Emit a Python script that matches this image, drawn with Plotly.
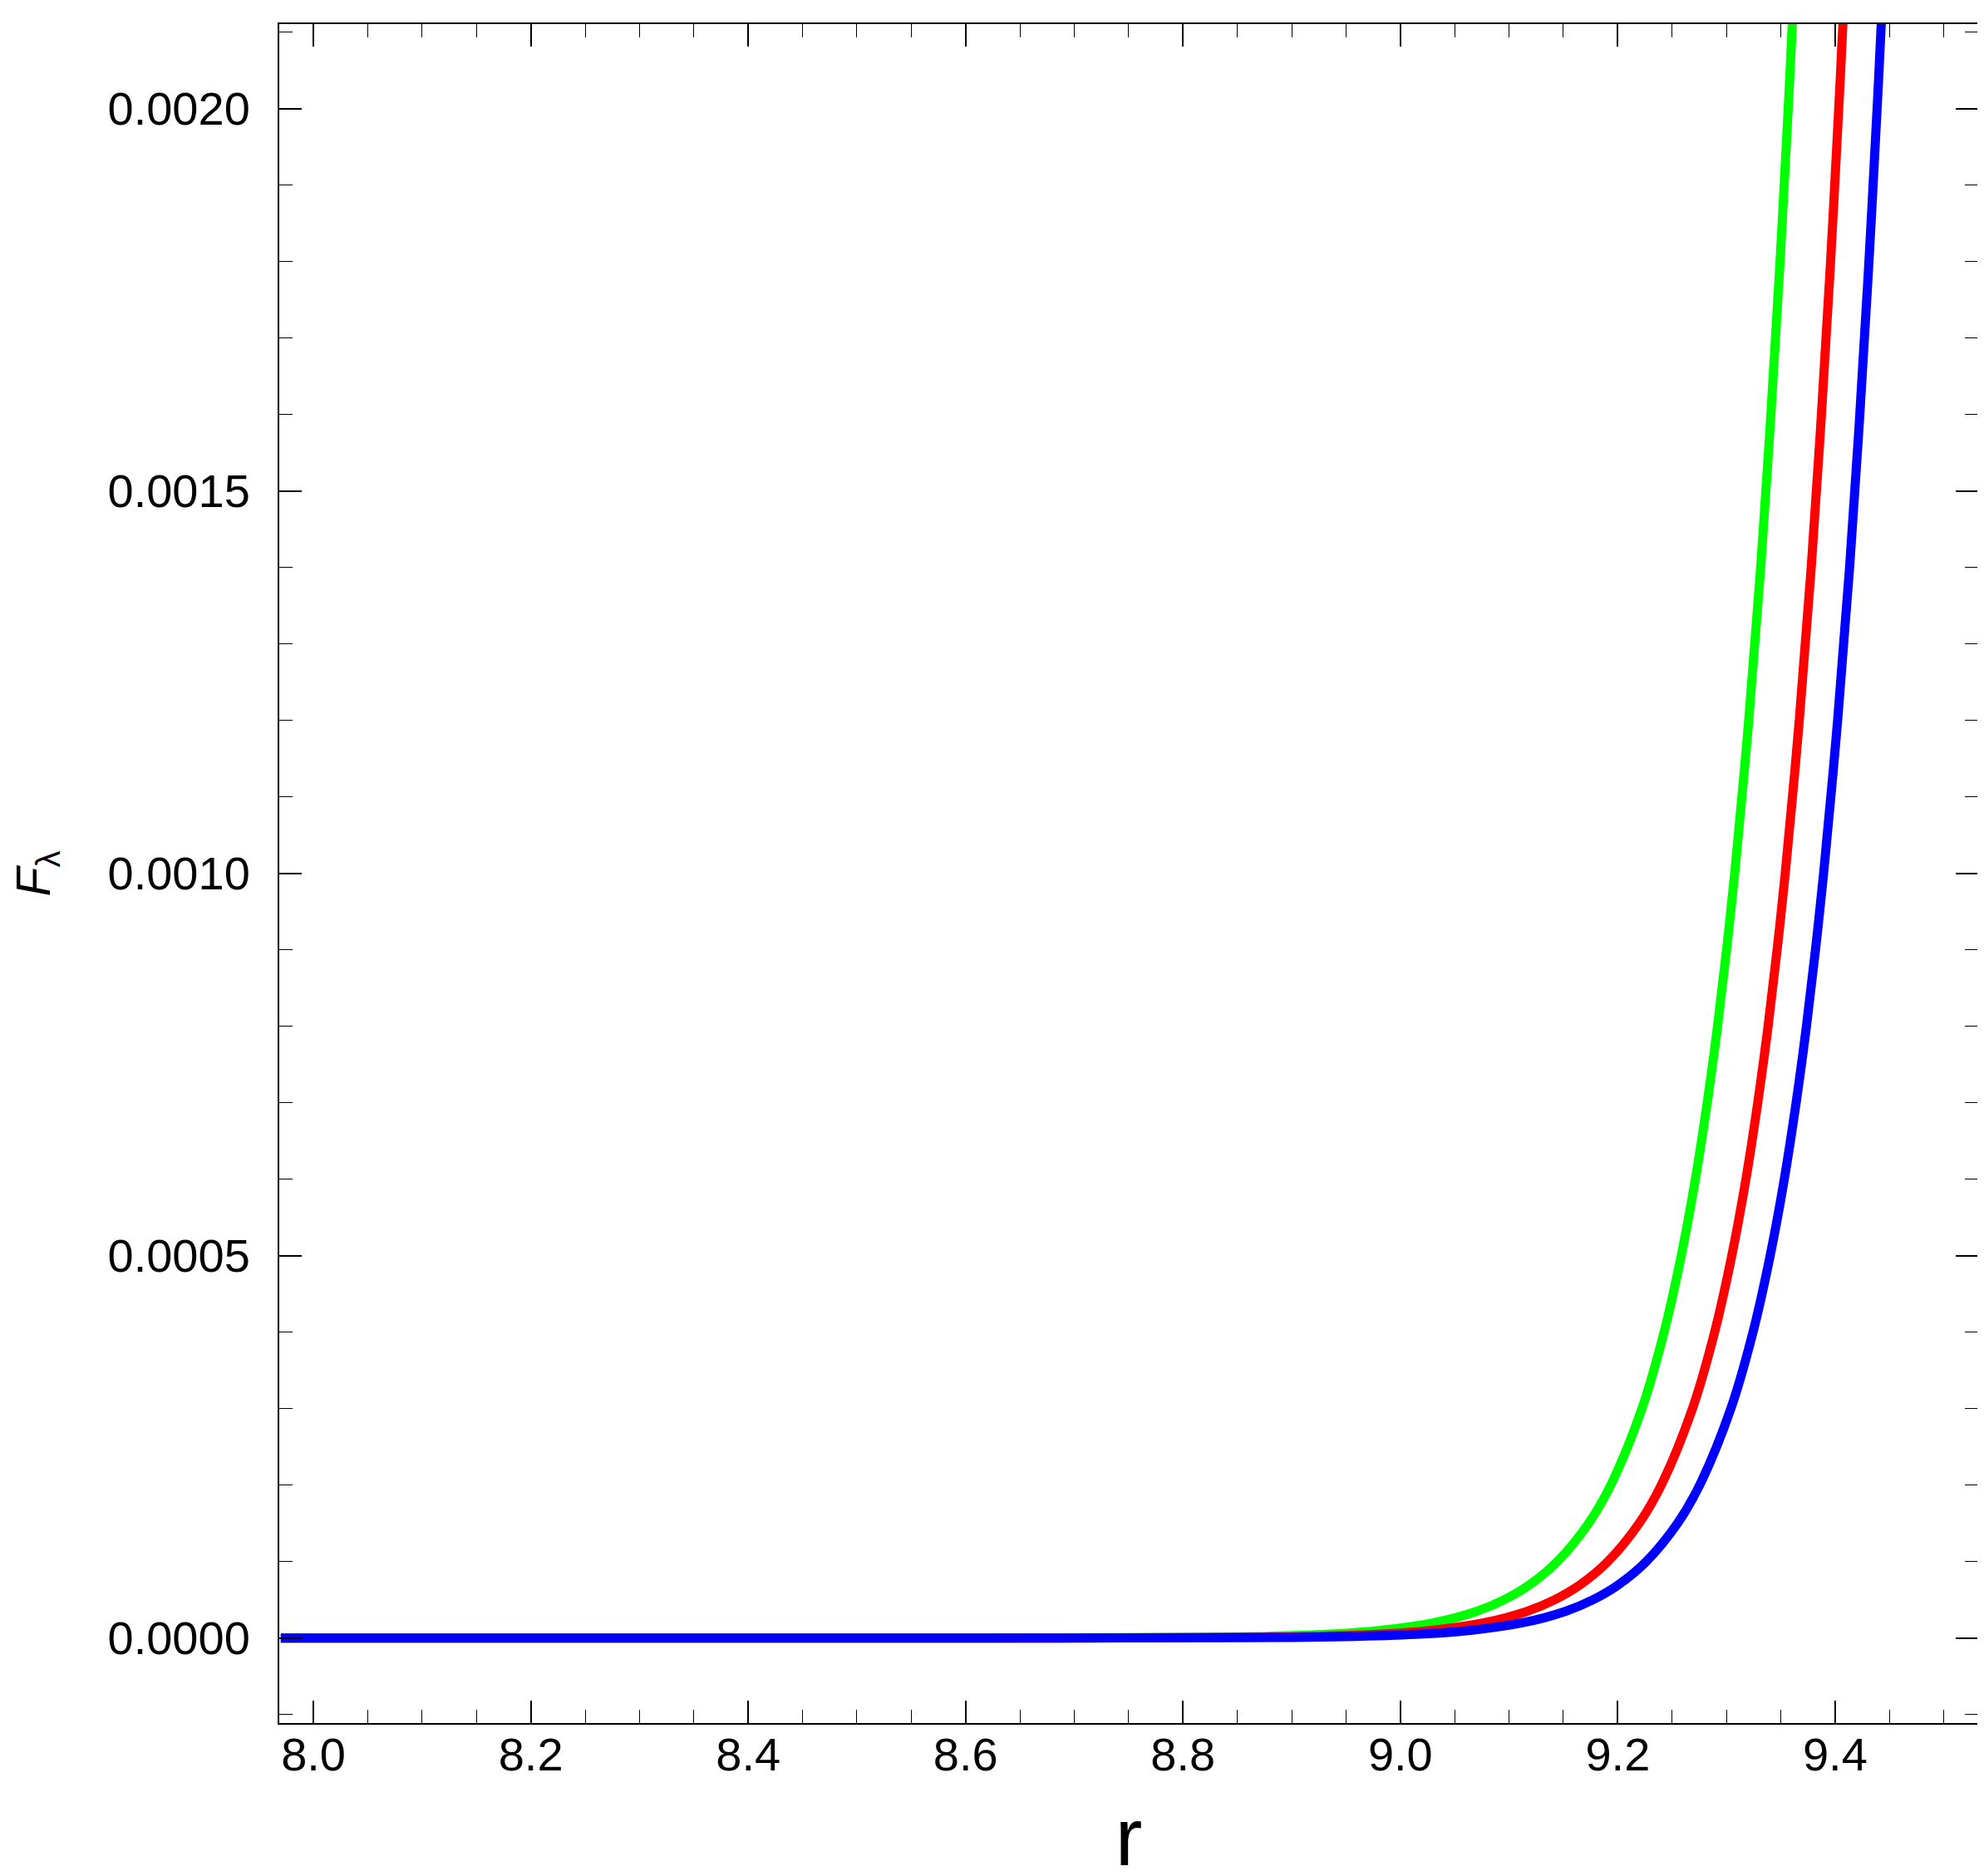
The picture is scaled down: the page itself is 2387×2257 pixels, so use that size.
import plotly.graph_objects as go

# ---- data (r, F_lambda) ----
F_levels = [0.0, 5e-8, 1e-6, 2e-6, 5e-6, 1e-5, 2e-5, 3.5e-5, 5e-5, 7e-5,
            1.0e-4, 1.5e-4, 2.0e-4, 3.0e-4, 4.0e-4, 5.0e-4, 6.0e-4, 7.0e-4, 8.0e-4, 9.0e-4,
            1.0e-3, 1.2e-3, 1.4e-3, 1.6e-3, 1.8e-3, 2.0e-3, 2.11e-3, 2.8e-3]

r_green = [7.97, 8.605, 8.8177, 8.8669, 8.9318, 8.9810, 9.0302, 9.0698, 9.0951, 9.1190,
           9.1443, 9.1731, 9.1935, 9.2222, 9.2426, 9.2584, 9.2714, 9.2823, 9.2918, 9.3001,
           9.3076, 9.3205, 9.3315, 9.3409, 9.3493, 9.3568, 9.3606, 9.3806]
F_green = list(F_levels)

r_red = [7.97, 8.652, 8.8643, 8.9134, 8.9783, 9.0275, 9.0767, 9.1163, 9.1416, 9.1655,
         9.1908, 9.2196, 9.2400, 9.2687, 9.2891, 9.3049, 9.3179, 9.3288, 9.3383, 9.3466,
         9.3541, 9.3670, 9.3780, 9.3874, 9.3958, 9.4033, 9.4071, 9.4271]
F_red = list(F_levels)

r_blue = [7.97, 8.688, 8.8995, 8.9487, 9.0136, 9.0628, 9.1120, 9.1516, 9.1769, 9.2008,
          9.2261, 9.2549, 9.2753, 9.3040, 9.3244, 9.3402, 9.3532, 9.3641, 9.3736, 9.3819,
          9.3894, 9.4023, 9.4133, 9.4227, 9.4311, 9.4386, 9.4424, 9.4624]
F_blue = list(F_levels)

x_ticks = [8.0, 8.2, 8.4, 8.6, 8.8, 9.0, 9.2, 9.4]
y_ticks = [0.0, 0.0005, 0.0010, 0.0015, 0.0020]

series = [
    ("green", r_green, F_green, "#00FF00"),
    ("red", r_red, F_red, "#FF0000"),
    ("blue", r_blue, F_blue, "#0000FF"),
]

fig = go.Figure()
for name, xs, ys, col in series:
    fig.add_trace(go.Scatter(x=xs, y=ys, mode="lines", name=name,
                             line=dict(color=col, width=11, shape="spline", smoothing=1.0),
                             showlegend=False))

FONT = "Liberation Sans, Arial, sans-serif"

fig.update_layout(
    width=2387, height=2257, autosize=False,
    margin=dict(l=328, r=15, t=21, b=192),
    paper_bgcolor="white", plot_bgcolor="white",
    font=dict(family=FONT, size=56, color="black"),
)

axis_common = dict(
    showgrid=False, zeroline=False, showline=True, linecolor="black", linewidth=2,
    mirror="allticks", ticks="inside", ticklen=27, tickwidth=1.5, tickcolor="black",
    tickfont=dict(family=FONT, size=56, color="black"),
)

fig.update_xaxes(
    range=[7.9686, 9.5316], tickvals=x_ticks, ticktext=[f"{v:.1f}" for v in x_ticks],
    minor=dict(ticks="inside", ticklen=16, tickwidth=1, tickcolor="black", dtick=0.05, tick0=8.0),
    title=dict(text="r", font=dict(family=FONT, size=98, color="black"), standoff=38),
    ticklabelstandoff=-12,
    **axis_common,
)
fig.update_yaxes(
    range=[-0.000111, 0.0021105], tickvals=y_ticks, ticktext=[f"{v:.4f}" for v in y_ticks],
    minor=dict(ticks="inside", ticklen=16, tickwidth=1, tickcolor="black", dtick=0.0001, tick0=0),
    title=dict(text="<i>F</i><sub>λ</sub>", font=dict(family=FONT, size=57, color="black"), standoff=52),
    ticklabelstandoff=22,
    **axis_common,
)

fig.write_html("out.html")
